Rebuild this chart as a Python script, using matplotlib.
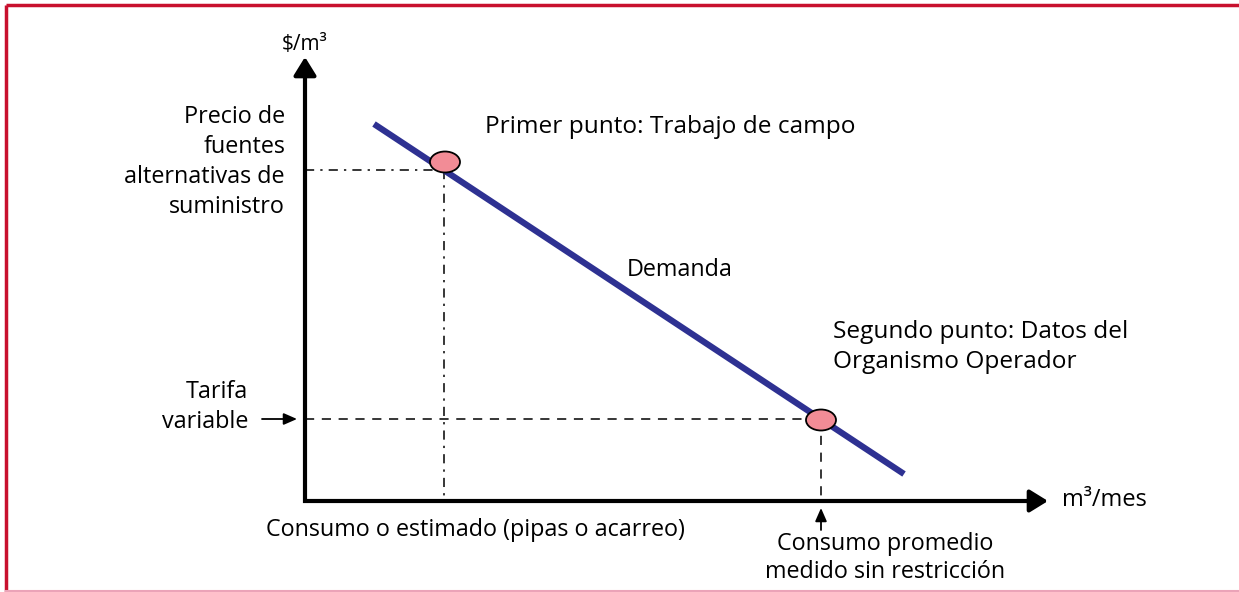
import matplotlib.pyplot as plt
from matplotlib.patches import Ellipse

plt.rcParams['font.family'] = ['Open Sans', 'DejaVu Sans']

# schematic coordinates: origin at the axes corner, 1 unit = 1 pixel
x_axis_end = 743
y_axis_end = 444
demand_x = [69, 599]
demand_y = [377, 27]
point_x = [140, 516]
point_y = [339, 81]
ref_y = [331, 82]     # guide lines at each point
ref_x = [139, 516]

fig = plt.figure(figsize=(12.39, 5.92), dpi=100)
ax = fig.add_axes([0, 0, 1, 1])
ax.set_xlim(-305, 934)
ax.set_ylim(-91, 501)
ax.axis('off')

red = '#C8102E'
navy = '#2E3192'
pink = '#F28C96'

# frame
ax.plot([-299, -299], [-91, 496], color=red, lw=2.5, solid_capstyle='butt')
ax.plot([-299, 934], [496, 496], color=red, lw=2.5, solid_capstyle='butt')
ax.plot([-299, 934], [-89.5, -89.5], color='#EBA3B8', lw=1.5)

# axes with arrows
ax.plot([0, 0, x_axis_end - 12], [y_axis_end - 12, 0, 0], color='black', lw=3,
        solid_joinstyle='miter', solid_capstyle='butt')
big = dict(arrowstyle='-|>,head_length=1.1,head_width=0.68', color='black',
           lw=3, shrinkA=0, shrinkB=0, mutation_scale=10)
ax.annotate('', xy=(0, y_axis_end), xytext=(0, y_axis_end - 20), arrowprops=big)
ax.annotate('', xy=(x_axis_end, 0), xytext=(x_axis_end - 20, 0), arrowprops=big)

# guide lines
ax.plot([0, ref_x[0]], [ref_y[0], ref_y[0]], color='black', lw=1.1,
        linestyle=(0, (6, 4, 1.5, 4)))
ax.plot([ref_x[0], ref_x[0]], [ref_y[0], 0], color='black', lw=1.1,
        linestyle=(0, (6, 4, 1.5, 4)))
ax.plot([0, ref_x[1]], [ref_y[1], ref_y[1]], color='black', lw=1.1,
        linestyle=(0, (6, 5)))
ax.plot([ref_x[1], ref_x[1]], [ref_y[1], 0], color='black', lw=1.1,
        linestyle=(0, (6, 5)))

# demand line
ax.plot(demand_x, demand_y, color=navy, lw=4.5, solid_capstyle='butt', zorder=3)

for px, py in zip(point_x, point_y):
    ax.add_patch(Ellipse((px, py), 30, 21, facecolor=pink, edgecolor='black',
                         lw=1.3, zorder=4))

small = dict(arrowstyle='-|>,head_length=0.8,head_width=0.35', color='black',
             lw=1.3, shrinkA=0, shrinkB=0, mutation_scale=10)
ax.annotate('', xy=(-8, 82), xytext=(-43, 82), arrowprops=small)
ax.annotate('', xy=(516, -7), xytext=(516, -29), arrowprops=small)

fs = 16.8
ls = 1.33
ax.text(0, 456, '$/m³', ha='center', va='center', fontsize=15)
ax.text(757, 1, 'm³/mes', ha='left', va='center', fontsize=17)
ax.text(-20, 339, 'Precio de\nfuentes\nalternativas de\nsuministro', ha='right',
        va='center', fontsize=fs, linespacing=ls)
ax.text(-57, 94, 'Tarifa\nvariable', ha='right', va='center', fontsize=fs,
        linespacing=ls)
ax.text(180, 374, 'Primer punto: Trabajo de campo', ha='left', va='center',
        fontsize=17.6)
ax.text(322, 231, 'Demanda', ha='left', va='center', fontsize=fs)
ax.text(528, 154, 'Segundo punto: Datos del\nOrganismo Operador', ha='left',
        va='center', fontsize=17.6, linespacing=1.3)
ax.text(170, -29, 'Consumo o estimado (pipas o acarreo)', ha='center',
        va='center', fontsize=fs)
ax.text(580, -57, 'Consumo promedio\nmedido sin restricción', ha='center',
        va='center', fontsize=fs, linespacing=1.2)

fig.savefig('out.png', dpi=100)
